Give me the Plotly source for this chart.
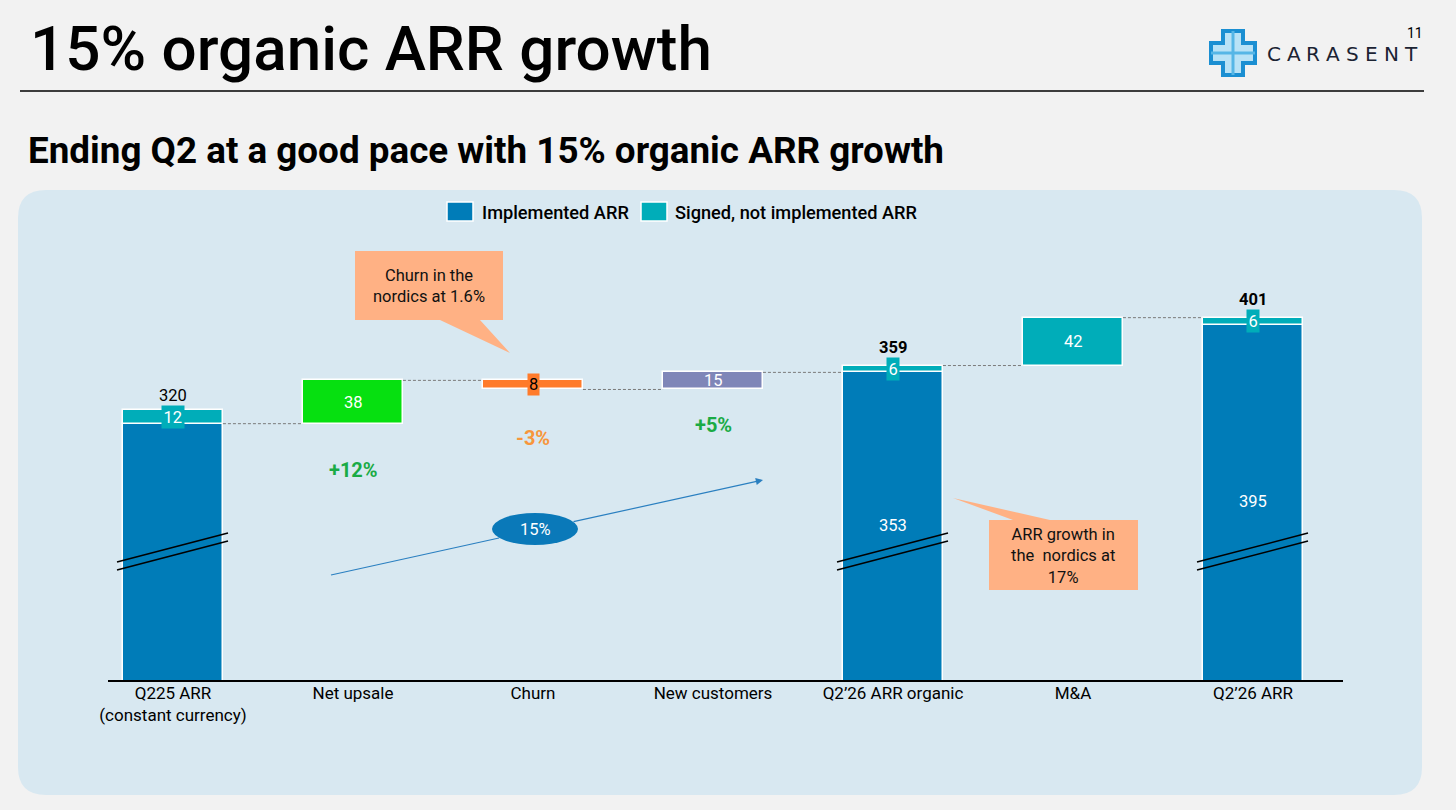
import plotly.graph_objects as go

# ---------------- data ----------------
categories = ["Q225 ARR<br>(constant currency)", "Net upsale", "Churn", "New customers",
              "Q2’26 ARR organic", "M&A", "Q2’26 ARR"]
implemented = [308, None, None, None, 353, None, 395]
signed = [12, None, None, None, 6, None, 6]
deltas = [None, 38, -8, 15, None, 42, None]
pct_labels = [None, "+12%", "-3%", "+5%", None, None, None]
series_names = ["Implemented ARR", "Signed, not implemented ARR"]

# ---------------- styles ----------------
C_IMPL = "#007cb8"
C_SIGN = "#00adb9"
delta_colors = [None, "#06e010", "#ff7b2b", "#7f86b8", None, "#00adb9", None]
pct_colors = [None, "#1aab45", "#f7963c", "#1aab45", None, None, None]
FONT = "Roboto"

# plot area in pixels
L, R, T, B = 108, 1343, 230, 680
PX_PER_UNIT = 1.14
Y0 = 320 - (B - 410) / PX_PER_UNIT
Y1 = Y0 + (B - T) / PX_PER_UNIT
BAR_W = 0.555


def fx(p):
    return (p - L) / (R - L)


def fy(p):
    return (B - p) / (B - T)


def path(points):
    return "M " + " L ".join(f"{fx(x):.5f},{fy(y):.5f}" for x, y in points) + " Z"


def txt(x, y, text, size=16, color="#000", xanchor="center", weight=None, family=FONT):
    f = dict(family=family, size=size, color=color)
    if weight:
        f["weight"] = weight
    return dict(x=fx(x), y=fy(y), xref="paper", yref="paper", xanchor=xanchor,
                yanchor="middle", text=text, showarrow=False, font=f)


# ---------------- waterfall computation ----------------
x_idx = list(range(len(categories)))
d_base, d_len = [], []
levels = []  # level leaving each bar
running = None
for i in x_idx:
    if implemented[i] is not None:
        total = implemented[i] + signed[i]
        running = implemented[i] if i == 0 else total
        d_base.append(None)
        d_len.append(None)
    else:
        d = deltas[i]
        d_base.append(running if d >= 0 else running + d)
        d_len.append(abs(d))
        running += d
    levels.append(running)

fig = go.Figure()

fig.add_trace(go.Bar(
    x=x_idx, y=implemented, base=0, width=BAR_W, name=series_names[0],
    marker=dict(color=C_IMPL, line=dict(color="white", width=1.5)),
    hoverinfo="skip", showlegend=False))
fig.add_trace(go.Bar(
    x=x_idx, y=signed, base=implemented,
    width=BAR_W, name=series_names[1],
    marker=dict(color=C_SIGN, line=dict(color="white", width=1.5)),
    hoverinfo="skip", showlegend=False))
fig.add_trace(go.Bar(
    x=x_idx, y=d_len, base=d_base, width=BAR_W, showlegend=False,
    marker=dict(color=[c if c else "rgba(0,0,0,0)" for c in delta_colors],
                line=dict(color="white", width=1.5)),
    hoverinfo="skip"))

shapes = []
annotations = []

# background panel (rounded)
r = 28
x0p, x1p, y0p, y1p = 18, 1422, 190, 795
panel = (f"M {fx(x0p + r):.5f},{fy(y0p):.5f} L {fx(x1p - r):.5f},{fy(y0p):.5f} "
         f"Q {fx(x1p):.5f},{fy(y0p):.5f} {fx(x1p):.5f},{fy(y0p + r):.5f} "
         f"L {fx(x1p):.5f},{fy(y1p - r):.5f} "
         f"Q {fx(x1p):.5f},{fy(y1p):.5f} {fx(x1p - r):.5f},{fy(y1p):.5f} "
         f"L {fx(x0p + r):.5f},{fy(y1p):.5f} "
         f"Q {fx(x0p):.5f},{fy(y1p):.5f} {fx(x0p):.5f},{fy(y1p - r):.5f} "
         f"L {fx(x0p):.5f},{fy(y0p + r):.5f} "
         f"Q {fx(x0p):.5f},{fy(y0p):.5f} {fx(x0p + r):.5f},{fy(y0p):.5f} Z")
shapes.append(dict(type="path", path=panel, xref="paper", yref="paper",
                   fillcolor="#d8e8f1", line=dict(width=0), layer="below"))

# title rule
shapes.append(dict(type="line", xref="paper", yref="paper", x0=fx(20), x1=fx(1424),
                   y0=fy(91), y1=fy(91), line=dict(color="#000", width=1.5)))

# legend (drawn)
for (lx0, lx1, tx, col, name) in [(447, 473, 480, C_IMPL, series_names[0]),
                                   (641, 667, 673, C_SIGN, series_names[1])]:
    shapes.append(dict(type="rect", xref="paper", yref="paper", x0=fx(lx0), x1=fx(lx1),
                       y0=fy(221), y1=fy(202), fillcolor=col,
                       line=dict(color="white", width=1.5)))
    annotations.append(txt(tx, 212, name, size=18.2, xanchor="left", weight=500))

# connectors
for i in x_idx[:-1]:
    shapes.append(dict(type="line", xref="x", yref="y",
                       x0=i + BAR_W / 2, x1=i + 1 - BAR_W / 2,
                       y0=levels[i], y1=levels[i],
                       line=dict(color="#7a7a7a", width=1, dash="3px,2px")))

# axis break marks on total bars
for i in x_idx:
    if implemented[i] is not None:
        cx = L + 65 + 180 * i
        for dy in (0, 8):
            shapes.append(dict(type="line", xref="paper", yref="paper",
                               x0=fx(cx - 56), y0=fy(562 + dy), x1=fx(cx + 55), y1=fy(533 + dy),
                               line=dict(color="#000", width=1.5)))

# callouts
shapes.append(dict(type="path", xref="paper", yref="paper", layer="above",
                   path=path([(355, 251), (503, 251), (503, 320), (480, 320), (510, 353),
                              (440, 320), (355, 320)]),
                   fillcolor="#ffb184", line=dict(width=0)))
shapes.append(dict(type="path", xref="paper", yref="paper", layer="above",
                   path=path([(989, 520), (1013, 520), (953, 498), (1050, 520), (1138, 520),
                              (1138, 590), (989, 590)]),
                   fillcolor="#ffb184", line=dict(width=0)))
annotations.append(txt(429, 286, "Churn in the<br>nordics at 1.6%", size=16.5, color="#111"))
annotations.append(txt(1063, 556, "ARR growth in<br>the  nordics at<br>17%", size=16.5,
                       color="#111"))

# 15% arrow + ellipse
shapes.append(dict(type="line", xref="paper", yref="paper", x0=fx(331), y0=fy(575),
                   x1=fx(499), y1=fy(538), line=dict(color="#2a7fc0", width=1.2)))
shapes.append(dict(type="circle", xref="paper", yref="paper", x0=fx(492), x1=fx(578),
                   y0=fy(545), y1=fy(513), fillcolor="#0a79b9", line=dict(width=0),
                   layer="above"))
annotations.append(dict(x=fx(763), y=fy(480), xref="paper", yref="paper", text="",
                        showarrow=True, ax=572 - 763, ay=522 - 480, arrowhead=2,
                        arrowsize=1.2, arrowwidth=1.2, arrowcolor="#2a7fc0"))
annotations.append(txt(535, 529, "15%", size=16.5, color="white"))

# value labels
for i in x_idx:
    if implemented[i] is not None:
        total = implemented[i] + signed[i]
        bold = i != 0
        annotations.append(dict(
            x=i, y=total, xref="x", yref="y", yanchor="bottom", xanchor="center",
            yshift=3 if not bold else 7,
            text=(f"<b>{total}</b>" if bold else f"{total}"), showarrow=False,
            font=dict(family=FONT, size=16.5, color="#000")))
        annotations.append(dict(
            x=i, y=implemented[i] + signed[i] / 2, xref="x", yref="y",
            xanchor="center", yanchor="middle",
            text=f"{signed[i]}", showarrow=False, bgcolor=C_SIGN, borderpad=1.5,
            font=dict(family=FONT, size=16.5, color="white")))
    else:
        mid = d_base[i] + d_len[i] / 2
        if deltas[i] < 0:
            annotations.append(dict(
                x=i, y=mid, xref="x", yref="y", text=f"{d_len[i]}", showarrow=False,
                xanchor="center", yanchor="middle",
                bgcolor=delta_colors[i], borderpad=1,
                font=dict(family=FONT, size=16.5, color="#000")))
        else:
            annotations.append(dict(
                x=i, y=mid, xref="x", yref="y", text=f"{d_len[i]}", showarrow=False,
                xanchor="center", yanchor="middle",
                font=dict(family=FONT, size=16.5, color="white")))

# implemented labels inside the tall bars
impl_label_px = {4: 525, 6: 501}
for i, py in impl_label_px.items():
    annotations.append(dict(x=i, y=fy(py), xref="x", yref="paper",
                            xanchor="center", yanchor="middle",
                            text=f"{implemented[i]}", showarrow=False,
                            font=dict(family=FONT, size=16.5, color="white")))

# percent labels
pct_px = {1: 470, 2: 438, 3: 425}
for i, py in pct_px.items():
    annotations.append(dict(x=i, y=fy(py), xref="x", yref="paper",
                            xanchor="center", yanchor="middle",
                            text=f"<b>{pct_labels[i]}</b>", showarrow=False,
                            font=dict(family=FONT, size=20, color=pct_colors[i])))

# header texts
annotations.append(txt(28, 49, "15% organic ARR growth", size=62, xanchor="left", weight=500))
annotations.append(txt(26, 150, "Ending Q2 at a good pace with 15% organic ARR growth",
                       size=36.8, xanchor="left", weight=700))
annotations.append(txt(1415, 33, "11", size=14))
# logo word, letter-spaced
for k, ch in enumerate("CARASENT"):
    annotations.append(txt(1274 + 19.5 * k, 54, ch, size=20, color="#1b2333",
                           family="DejaVu Sans"))

# logo icon (cross)
cx, cy = 1233, 53
arm, half = 10, 22
cross = [(cx - arm, cy - half), (cx + arm, cy - half), (cx + arm, cy - arm),
         (cx + half, cy - arm), (cx + half, cy + arm), (cx + arm, cy + arm),
         (cx + arm, cy + half), (cx - arm, cy + half), (cx - arm, cy + arm),
         (cx - half, cy + arm), (cx - half, cy - arm), (cx - arm, cy - arm)]
shapes.append(dict(type="path", xref="paper", yref="paper", path=path(cross),
                   fillcolor="#b8e2f6", line=dict(color="#1b8fd2", width=4)))
shapes.append(dict(type="line", xref="paper", yref="paper", x0=fx(cx - half), x1=fx(cx + half),
                   y0=fy(cy), y1=fy(cy), line=dict(color="#56b6e6", width=3)))
shapes.append(dict(type="line", xref="paper", yref="paper", x0=fx(cx), x1=fx(cx),
                   y0=fy(cy - half), y1=fy(cy + half), line=dict(color="#56b6e6", width=3)))

fig.update_layout(
    width=1456, height=810,
    margin=dict(l=L, r=1456 - R, t=T, b=810 - B, pad=0),
    paper_bgcolor="#f2f2f2", plot_bgcolor="rgba(0,0,0,0)",
    barmode="overlay", bargap=0, showlegend=False,
    font=dict(family=FONT, size=16, color="#000"),
    shapes=shapes, annotations=annotations,
    xaxis=dict(range=[-65 / 180, 6.5], tickvals=x_idx, ticktext=categories,
               showline=True, linecolor="#000", linewidth=1.5, showgrid=False,
               zeroline=False, ticks="", tickfont=dict(family=FONT, size=17, color="#000"),
               ticklabelstandoff=-3, fixedrange=True),
    yaxis=dict(range=[Y0, Y1], visible=False, showgrid=False, zeroline=False,
               fixedrange=True),
)

fig.write_html("out.html", config={"displayModeBar": False},
               post_script="document.body.style.margin='0';document.body.style.overflow='hidden';")
